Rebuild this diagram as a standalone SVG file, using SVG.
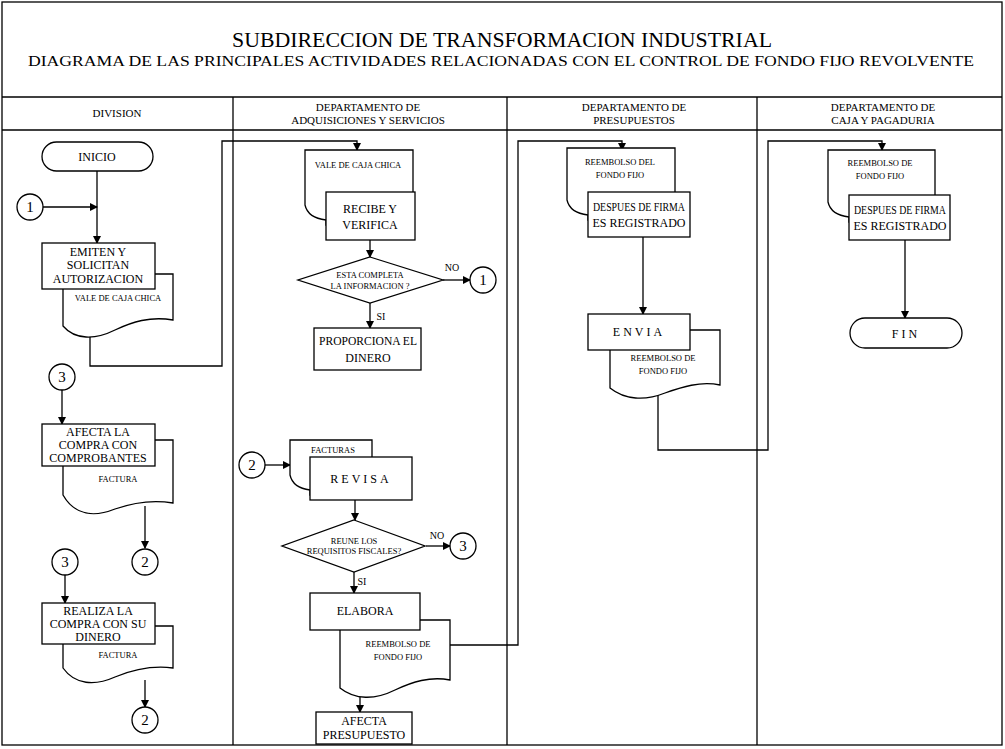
<svg xmlns="http://www.w3.org/2000/svg" width="1005" height="749" viewBox="0 0 1005 749">
<defs>
<marker id="ah" markerWidth="8" markerHeight="8" refX="7" refY="4" orient="auto" markerUnits="userSpaceOnUse">
<path d="M0,0 L8,4 L0,8 Z" fill="#000"/>
</marker>
<style>
.frame{fill:none;stroke:#000;stroke-width:1.3}
.sh{fill:#fff;stroke:#000;stroke-width:1.3}
.ln{fill:none;stroke:#000;stroke-width:1.3}
.ar{fill:none;stroke:#000;stroke-width:1.3;marker-end:url(#ah)}
text{font-family:"Liberation Serif","Times New Roman",serif;fill:#000;text-anchor:middle}
.t{font-size:12px}
.h{font-size:11px}
.d{font-size:8.5px}
.c{font-size:15px}
.l{font-size:10px}
</style>
</defs>
<rect width="1005" height="749" fill="#fff"/>
<g id="frame">
<rect class="frame" x="2" y="2" width="1000" height="743"/>
<line class="frame" x1="2" y1="97" x2="1002" y2="97"/>
<line class="frame" x1="2" y1="130" x2="1002" y2="130"/>
<line class="frame" x1="233" y1="97" x2="233" y2="745"/>
<line class="frame" x1="507" y1="97" x2="507" y2="745"/>
<line class="frame" x1="757" y1="97" x2="757" y2="745"/>
<text x="502" y="47" style="font-size:21px" textLength="540" lengthAdjust="spacingAndGlyphs">SUBDIRECCION DE TRANSFORMACION INDUSTRIAL</text>
<text x="501" y="66" style="font-size:15px" textLength="946" lengthAdjust="spacingAndGlyphs">DIAGRAMA DE LAS PRINCIPALES ACTIVIDADES RELACIONADAS CON EL CONTROL DE FONDO FIJO REVOLVENTE</text>
<text class="h" x="117" y="117">DIVISION</text>
<text class="h" x="368" y="111">DEPARTAMENTO DE</text>
<text class="h" x="368" y="124">ADQUISICIONES Y SERVICIOS</text>
<text class="h" x="634" y="111">DEPARTAMENTO DE</text>
<text class="h" x="634" y="124">PRESUPUESTOS</text>
<text class="h" x="883" y="111">DEPARTAMENTO DE</text>
<text class="h" x="883" y="124">CAJA Y PAGADURIA</text>
</g>
<g id="connectors">
<line class="ar" x1="97" y1="171" x2="97" y2="243"/>
<line class="ar" x1="43" y1="207" x2="97" y2="207"/>
<polyline class="ar" points="90,337 90,366 222,366 222,141 357,141 357,150"/>
<line class="ar" x1="62" y1="390" x2="62" y2="424"/>
<line class="ar" x1="145" y1="506" x2="145" y2="548"/>
<line class="ar" x1="65" y1="575" x2="65" y2="603"/>
<line class="ar" x1="145" y1="680" x2="145" y2="707"/>
<line class="ar" x1="370" y1="240" x2="370" y2="257"/>
<line class="ar" x1="443" y1="280" x2="470" y2="280"/>
<line class="ar" x1="370" y1="303" x2="370" y2="328"/>
<line class="ar" x1="265" y1="465" x2="290" y2="465"/>
<line class="ar" x1="355" y1="500" x2="355" y2="520"/>
<line class="ar" x1="426" y1="546" x2="450" y2="546"/>
<line class="ar" x1="354" y1="572" x2="354" y2="593"/>
<line class="ar" x1="360" y1="697" x2="360" y2="712"/>
<polyline class="ar" points="450,645 518,645 518,141 622,141 622,150"/>
<line class="ar" x1="643" y1="237" x2="643" y2="314"/>
<polyline class="ar" points="658,392 658,450 768,450 768,141 882,141 882,150"/>
<line class="ar" x1="905" y1="240" x2="905" y2="318"/>
<text class="l" x="452" y="271">NO</text>
<text class="l" x="381" y="320">SI</text>
<text class="l" x="437" y="539">NO</text>
<text class="l" x="362" y="585">SI</text>
</g>
<g id="inicio">
<rect class="sh" x="42" y="142" width="111" height="29" rx="14.5"/>
<text class="t" x="97" y="161">INICIO</text>
</g>
<g id="c1a"><circle class="sh" cx="30" cy="207" r="13"/><text class="c" x="30" y="212">1</text></g>
<g id="emiten">
<path class="sh" d="M63,274 H173 V320 C150,316 132,322 115,330 C95,340 75,340 63,326 Z"/>
<text class="d" x="118" y="301">VALE DE CAJA CHICA</text>
<rect class="sh" x="42" y="243" width="113" height="46"/>
<text class="t" x="98" y="256">EMITEN Y</text>
<text class="t" x="98" y="269">SOLICITAN</text>
<text class="t" x="98" y="283">AUTORIZACION</text>
</g>
<g id="c3a"><circle class="sh" cx="62" cy="377" r="13"/><text class="c" x="62" y="382">3</text></g>
<g id="afecta">
<path class="sh" d="M63,440 H173 V503 C150,499 132,503 115,509 C95,517 75,516 63,495 Z"/>
<text class="d" x="118" y="482">FACTURA</text>
<rect class="sh" x="42" y="424" width="113" height="42"/>
<text class="t" x="98" y="436">AFECTA LA</text>
<text class="t" x="98" y="449">COMPRA CON</text>
<text class="t" x="98" y="462">COMPROBANTES</text>
</g>
<g id="c2a"><circle class="sh" cx="145" cy="562" r="13"/><text class="c" x="145" y="567">2</text></g>
<g id="c3b"><circle class="sh" cx="65" cy="562" r="13"/><text class="c" x="65" y="567">3</text></g>
<g id="realiza">
<path class="sh" d="M63,626 H173 V668 C150,665 132,670 115,677 C95,686 75,685 63,668 Z"/>
<text class="d" x="118" y="658">FACTURA</text>
<rect class="sh" x="42" y="603" width="113" height="41"/>
<text class="t" x="98" y="615">REALIZA LA</text>
<text class="t" x="98" y="628">COMPRA CON SU</text>
<text class="t" x="98" y="641">DINERO</text>
</g>
<g id="c2b"><circle class="sh" cx="145" cy="720" r="13"/><text class="c" x="145" y="725">2</text></g>
<g id="recibe">
<path class="sh" d="M305,150 H413 V225 H326 V220 Q308,218 305,205 Z"/>
<text class="d" x="358" y="168">VALE DE CAJA CHICA</text>
<rect class="sh" x="326" y="192" width="89" height="48"/>
<text class="t" x="370" y="213">RECIBE Y</text>
<text class="t" x="370" y="229">VERIFICA</text>
</g>
<g id="dec1">
<polygon class="sh" points="370,257 443,280 370,303 298,280"/>
<text class="d" x="370" y="278">ESTA COMPLETA</text>
<text class="d" x="370" y="289">LA INFORMACION ?</text>
</g>
<g id="c1b"><circle class="sh" cx="483" cy="280" r="13"/><text class="c" x="483" y="285">1</text></g>
<g id="proporciona">
<rect class="sh" x="314" y="328" width="107" height="42"/>
<text class="t" x="368" y="345" textLength="98" lengthAdjust="spacingAndGlyphs">PROPORCIONA EL</text>
<text class="t" x="368" y="362">DINERO</text>
</g>
<g id="c2c"><circle class="sh" cx="252" cy="465" r="13"/><text class="c" x="252" y="470">2</text></g>
<g id="revisa">
<path class="sh" d="M290,440 H372 V495 H310 V490 Q293,488 290,475 Z"/>
<text class="d" x="333" y="453">FACTURAS</text>
<rect class="sh" x="310" y="457" width="102" height="43"/>
<text class="t" x="361" y="483" letter-spacing="3">REVISA</text>
</g>
<g id="dec2">
<polygon class="sh" points="354,520 425,546 354,572 282,546"/>
<text class="d" x="354" y="544">REUNE LOS</text>
<text class="d" x="354" y="554">REQUISITOS FISCALES?</text>
</g>
<g id="c3c"><circle class="sh" cx="463" cy="546" r="13"/><text class="c" x="463" y="551">3</text></g>
<g id="elabora">
<path class="sh" d="M340,620 H450 V680 C430,676 412,682 395,690 C375,700 355,700 340,688 Z"/>
<text class="d" x="398" y="647">REEMBOLSO DE</text>
<text class="d" x="398" y="660">FONDO FIJO</text>
<rect class="sh" x="310" y="593" width="110" height="37"/>
<text class="t" x="365" y="615">ELABORA</text>
</g>
<g id="afectapres">
<rect class="sh" x="316" y="712" width="96" height="32"/>
<text class="t" x="364" y="725">AFECTA</text>
<text class="t" x="364" y="739">PRESUPUESTO</text>
</g>
<g id="despues1">
<path class="sh" d="M567,148 H675 V220 H588 V215 Q570,213 567,200 Z"/>
<text class="d" x="620" y="165">REEMBOLSO DEL</text>
<text class="d" x="620" y="178">FONDO FIJO</text>
<rect class="sh" x="588" y="192" width="102" height="45"/>
<text class="t" x="639" y="211" textLength="92" lengthAdjust="spacingAndGlyphs">DESPUES DE FIRMA</text>
<text class="t" x="639" y="227">ES REGISTRADO</text>
</g>
<g id="envia">
<path class="sh" d="M610,330 H720 V385 C700,381 682,387 665,393 C645,401 625,400 610,388 Z"/>
<text class="d" x="663" y="361">REEMBOLSO DE</text>
<text class="d" x="663" y="374">FONDO FIJO</text>
<rect class="sh" x="588" y="314" width="102" height="36"/>
<text class="t" x="639" y="336" letter-spacing="3">ENVIA</text>
</g>
<g id="despues2">
<path class="sh" d="M828,150 H935 V222 H849 V217 Q831,215 828,202 Z"/>
<text class="d" x="880" y="166">REEMBOLSO DE</text>
<text class="d" x="880" y="179">FONDO FIJO</text>
<rect class="sh" x="849" y="195" width="101" height="45"/>
<text class="t" x="900" y="214" textLength="92" lengthAdjust="spacingAndGlyphs">DESPUES DE FIRMA</text>
<text class="t" x="900" y="230">ES REGISTRADO</text>
</g>
<g id="fin">
<rect class="sh" x="850" y="318" width="112" height="30" rx="15"/>
<text class="t" x="906" y="338" letter-spacing="3">FIN</text>
</g>
</svg>
